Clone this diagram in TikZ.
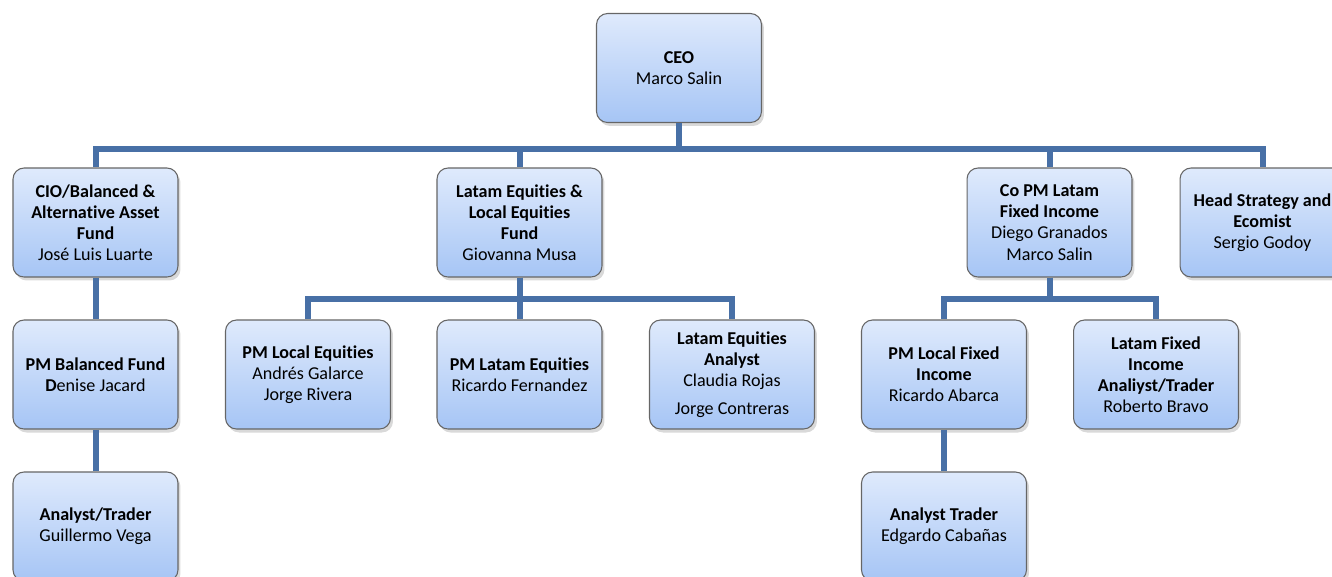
\documentclass[tikz,border=0pt]{standalone}
\usepackage{fontspec}
\setmainfont[Ligatures=NoCommon]{Carlito}
\usetikzlibrary{shadows}
\definecolor{boxtop}{RGB}{223,234,252}
\definecolor{boxbot}{RGB}{166,197,245}
\definecolor{linkblue}{RGB}{72,112,166}
\begin{document}
\begin{tikzpicture}[x=0.02cm, y=-0.02cm,
	main/.style = {draw=gray!80!black, line width=0.6pt, rounded corners=0.22cm, top color=boxtop, bottom color=boxbot, minimum width=3.3cm, minimum height=2.18cm, align=center, font=\fontsize{10.3}{12}\selectfont, drop shadow={opacity=0.3, shadow xshift=0.05cm, shadow yshift=-0.07cm}},
	link/.style = {draw=linkblue, line width=0.12cm}]
	\useasboundingbox (0,0) rectangle (1332,576);
	\node[main] (ceo) at (679,68) {\textbf{CEO}\\Marco Salin};
	\node[main] (cio) at (95.5,222.5) {\textbf{CIO/Balanced \&}\\\textbf{Alternative Asset}\\\textbf{Fund}\\José Luis Luarte};
	\node[main] (lateq) at (519.5,222.5) {\textbf{Latam Equities \&}\\\textbf{Local Equities}\\\textbf{Fund}\\Giovanna Musa};
	\node[main] (copm) at (1049.5,222.5) {\textbf{Co PM Latam}\\\textbf{Fixed Income}\\Diego Granados\\Marco Salin};
	\node[main] (head) at (1262.5,222.5) {\textbf{Head Strategy and}\\\textbf{Ecomist}\\Sergio Godoy};
	\node[main] (pmbal) at (95.5,374.5) {\textbf{PM Balanced Fund}\\\textbf{D}enise Jacard};
	\node[main] (pmloceq) at (308,374.5) {\textbf{PM Local Equities}\\Andrés Galarce\\Jorge Rivera};
	\node[main] (pmlateq) at (519.5,374.5) {\textbf{PM Latam Equities}\\Ricardo Fernandez};
	\node[main] (eqanalyst) at (732,374.5) {\textbf{Latam Equities}\\\textbf{Analyst}\\Claudia Rojas\\[0.14cm]Jorge Contreras};
	\node[main] (pmlocfix) at (944,374.5) {\textbf{PM Local Fixed}\\\textbf{Income}\\Ricardo Abarca};
	\node[main] (fixanalyst) at (1156,374.5) {\textbf{Latam Fixed}\\\textbf{Income}\\\textbf{Analiyst/Trader}\\Roberto Bravo};
	\node[main] (trader1) at (95.5,526.5) {\textbf{Analyst/Trader}\\Guillermo Vega};
	\node[main] (trader2) at (944,526.5) {\textbf{Analyst Trader}\\Edgardo Cabañas};
	\draw[link] (ceo.south) -- ++(0,26) -| (cio.north);
	\draw[link] (ceo.south) -- ++(0,26) -| (lateq.north);
	\draw[link] (ceo.south) -- ++(0,26) -| (copm.north);
	\draw[link] (ceo.south) -- ++(0,26) -| (head.north);
	\draw[link] (cio.south) -- (pmbal.north);
	\draw[link] (pmbal.south) -- (trader1.north);
	\draw[link] (lateq.south) -- ++(0,21) -| (pmloceq.north);
	\draw[link] (lateq.south) -- (pmlateq.north);
	\draw[link] (lateq.south) -- ++(0,21) -| (eqanalyst.north);
	\draw[link] (copm.south) -- ++(0,21) -| (pmlocfix.north);
	\draw[link] (copm.south) -- ++(0,21) -| (fixanalyst.north);
	\draw[link] (pmlocfix.south) -- (trader2.north);
\end{tikzpicture}
\end{document}
